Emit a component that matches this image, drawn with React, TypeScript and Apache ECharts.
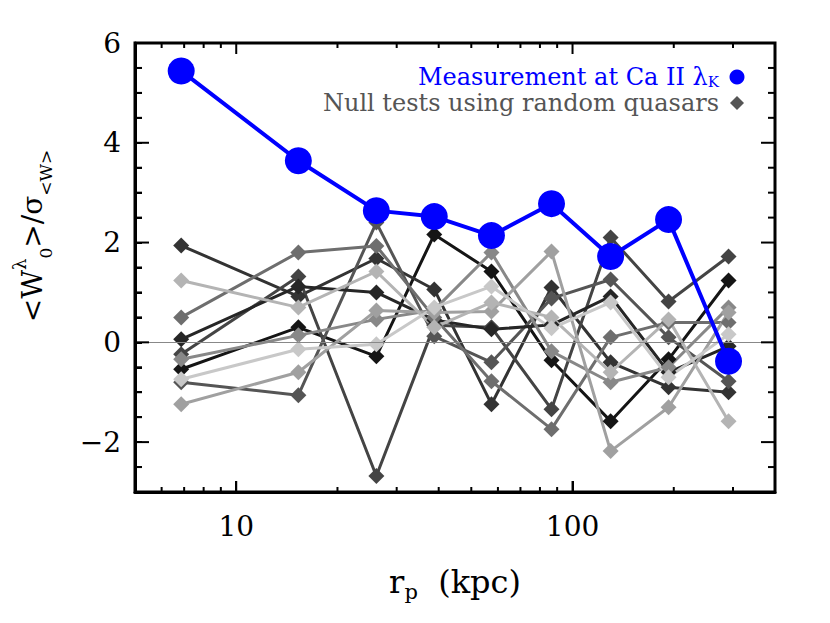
import React, { useEffect, useRef } from 'react';
import * as echarts from 'echarts';

// projected radius (kpc) of each bin
const radii = [6.86, 15.3, 26.1, 38.8, 57.4, 86.6, 129.8, 193, 291];
// measurement at Ca II K
const measurement = [5.44, 3.64, 2.64, 2.52, 2.14, 2.78, 1.72, 2.46, -0.38];
// null tests using random quasars
const null1 = [-0.54, 0.30, -0.28, 2.16, 1.42, -0.36, -1.58, -0.34, 1.24];
const null2 = [1.94, 0.92, 1.68, 1.06, -1.24, 1.10, -0.40, -0.90, -1.00];
const null3 = [-0.24, 1.32, -2.68, 0.34, 0.30, -1.34, 2.10, 0.82, 1.72];
const null4 = [-0.80, -1.06, 2.40, 0.12, -0.40, 0.88, 1.26, 0.10, -0.78];
const null5 = [0.06, 1.12, 1.00, 0.45, 0.26, 0.35, 0.92, -0.60, -0.08];
const null6 = [0.50, 1.80, 1.93, 0.50, -0.78, -1.74, 0.10, 0.40, 0.40];
const null7 = [-0.34, 0.14, 0.46, 0.65, 1.80, -0.18, -0.80, -0.50, 0.70];
const null8 = [-1.24, -0.60, 0.64, 0.60, 0.62, 1.82, -2.18, -1.30, 0.60];
const null9 = [1.24, 0.70, 1.42, 0.30, 0.80, 0.50, -0.60, 0.46, -1.58];
const null10 = [-0.74, -0.14, -0.04, 0.70, 1.12, 0.28, 0.80, -0.70, 0.16];
const nullTests = [null1, null2, null3, null4, null5, null6, null7, null8, null9, null10];
const nullColors = ['#151515', '#333333', '#444444', '#555555', '#262626', '#6e6e6e', '#888888', '#a0a0a0', '#b4b4b4', '#c8c8c8'];

const xMajorTicks = [10, 100];
const xMinorTicks = [6, 7, 8, 9, 20, 30, 40, 50, 60, 70, 80, 90, 200, 300];
const yMajorTicks = [-2, 0, 2, 4, 6];
const yMinorTicks = [-2.5, -1.5, -1, -0.5, 0.5, 1, 1.5, 2.5, 3, 3.5, 4.5, 5, 5.5];

const X_MIN = 5, X_MAX = 400, Y_MIN = -3, Y_MAX = 6;
const SERIF = "'DejaVu Serif', 'Liberation Serif', serif";

export default function App() {
  const ref = useRef<HTMLDivElement>(null);
  useEffect(() => {
    if (!ref.current) return;
    const chart = echarts.init(ref.current, undefined, { renderer: 'svg' });
    const axisLine = { show: true, onZero: false, lineStyle: { color: '#000', width: 3 } };

    const nullSeries = nullTests.map((d, i) => ({
      type: 'line',
      data: radii.map((r, j) => [r, d[j]]),
      symbol: 'diamond',
      symbolSize: 16,
      color: nullColors[i],
      lineStyle: { color: nullColors[i], width: 3 },
      itemStyle: { color: nullColors[i] },
      z: 2,
      ...(i === 0
        ? {
            markLine: {
              silent: true, symbol: ['none', 'none'], label: { show: false },
              lineStyle: { color: '#888', width: 1, type: 'solid' },
              data: [{ yAxis: 0 }],
            },
          }
        : {}),
    }));

    // tick data: [x, y, length]
    const xTickData = [...xMajorTicks.map((v) => [v, 0, 11]), ...xMinorTicks.map((v) => [v, 0, 5])];
    const yTickData = [...yMajorTicks.map((v) => [10, v, 14]), ...yMinorTicks.map((v) => [10, v, 7])];
    const tickSeries = (data: number[][], side: string) => ({
      type: 'custom', data, clip: false, z: 10,
      renderItem: (_p: any, api: any) => {
        const len = api.value(2);
        if (side === 'b' || side === 't') {
          const p = api.coord([api.value(0), side === 'b' ? Y_MIN : Y_MAX]);
          const d = side === 'b' ? -len : len;
          return { type: 'line', shape: { x1: p[0], y1: p[1], x2: p[0], y2: p[1] + d }, style: { stroke: '#000', lineWidth: 2 } };
        }
        const p = api.coord([side === 'l' ? X_MIN : X_MAX, api.value(1)]);
        const d = side === 'l' ? len : -len;
        return { type: 'line', shape: { x1: p[0], y1: p[1], x2: p[0] + d, y2: p[1] }, style: { stroke: '#000', lineWidth: 2 } };
      },
    });

    chart.setOption({
      animation: false,
      backgroundColor: '#fff',
      grid: {
        left: 135, right: 55, top: 43, bottom: 131, containLabel: false,
        show: true, borderColor: '#000', borderWidth: 3,
      },
      xAxis: {
        type: 'log', min: X_MIN, max: X_MAX, axisLine,
        splitLine: { show: false },
        axisTick: { show: true, inside: true, length: 11, lineStyle: { color: '#000', width: 2 } },
        axisLabel: { customValues: xMajorTicks, fontFamily: SERIF, fontSize: 28, color: '#000', margin: 20 },
        name: '{m|r}{b|p}{m|  (kpc)}',
        nameLocation: 'middle', nameGap: 70,
        nameTextStyle: {
          rich: {
            m: { fontFamily: SERIF, fontSize: 32, color: '#000', lineHeight: 40 },
            b: { fontFamily: SERIF, fontSize: 21, color: '#000', verticalAlign: 'bottom', lineHeight: 30 },
          },
        },
      },
      yAxis: {
        type: 'value', min: Y_MIN, max: Y_MAX, interval: 1, axisLine,
        splitLine: { show: false },
        axisTick: { show: true, inside: true, length: 7, lineStyle: { color: '#000', width: 2 } },
        minorTick: { show: true, splitNumber: 2, length: 7, lineStyle: { color: '#000', width: 2 } },
        axisLabel: {
          fontFamily: SERIF, fontSize: 28, color: '#000', margin: 14,
          formatter: (v: number) => (yMajorTicks.indexOf(v) < 0 ? '' : v < 0 ? '\u2212' + Math.abs(v) : String(v)),
        },
      },
      graphic: [
        {
          type: 'text', x: 32, y: 236, rotation: Math.PI / 2,
          style: {
            text: '{m|<W}{s|λ}{b|0}{m|>}{m|/σ}{b|<W>}',
            align: 'center', verticalAlign: 'middle',
            rich: {
              m: { fontFamily: SERIF, fontSize: 28, fill: '#000', lineHeight: 44 },
              s: { fontFamily: SERIF, fontSize: 18, fill: '#000', verticalAlign: 'top', lineHeight: 44 },
              b: { fontFamily: SERIF, fontSize: 17, fill: '#000', verticalAlign: 'bottom', lineHeight: 40 },
            },
          },
        },
        {
          type: 'text', x: 719, y: 77,
          style: {
            text: '{t|Measurement at Ca II λ}{k|K}',
            align: 'right', verticalAlign: 'middle',
            rich: {
              t: { fontFamily: SERIF, fontSize: 24, fill: '#0000ff', lineHeight: 24 },
              k: { fontFamily: SERIF, fontSize: 15, fill: '#0000ff', verticalAlign: 'bottom', lineHeight: 20 },
            },
          },
        },
        { type: 'circle', shape: { cx: 737, cy: 77, r: 7.5 }, style: { fill: '#0000ff' } },
        {
          type: 'text', x: 719, y: 103,
          style: {
            text: 'Null tests using random quasars', fontFamily: SERIF, fontSize: 24, fill: '#555555',
            align: 'right', verticalAlign: 'middle', lineHeight: 22,
          },
        },
        {
          type: 'polygon',
          shape: { points: [[737, 96], [744, 103], [737, 110], [730, 103]] },
          style: { fill: '#555555' },
        },
      ],
      series: [
        ...nullSeries,
        {
          type: 'line',
          data: radii.map((r, j) => [r, measurement[j]]),
          symbol: 'circle', symbolSize: 27,
          color: '#0000ff',
          lineStyle: { color: '#0000ff', width: 4 },
          itemStyle: { color: '#0000ff' },
          z: 5,
        },
        tickSeries(xTickData, 'b'),
        tickSeries(xTickData, 't'),
        tickSeries(yTickData, 'l'),
        tickSeries(yTickData, 'r'),
      ],
    });

    return () => chart.dispose();
  }, []);
  return <div ref={ref} style={{ position: 'fixed', left: 0, top: 0, width: 830, height: 623 }} />;
}
